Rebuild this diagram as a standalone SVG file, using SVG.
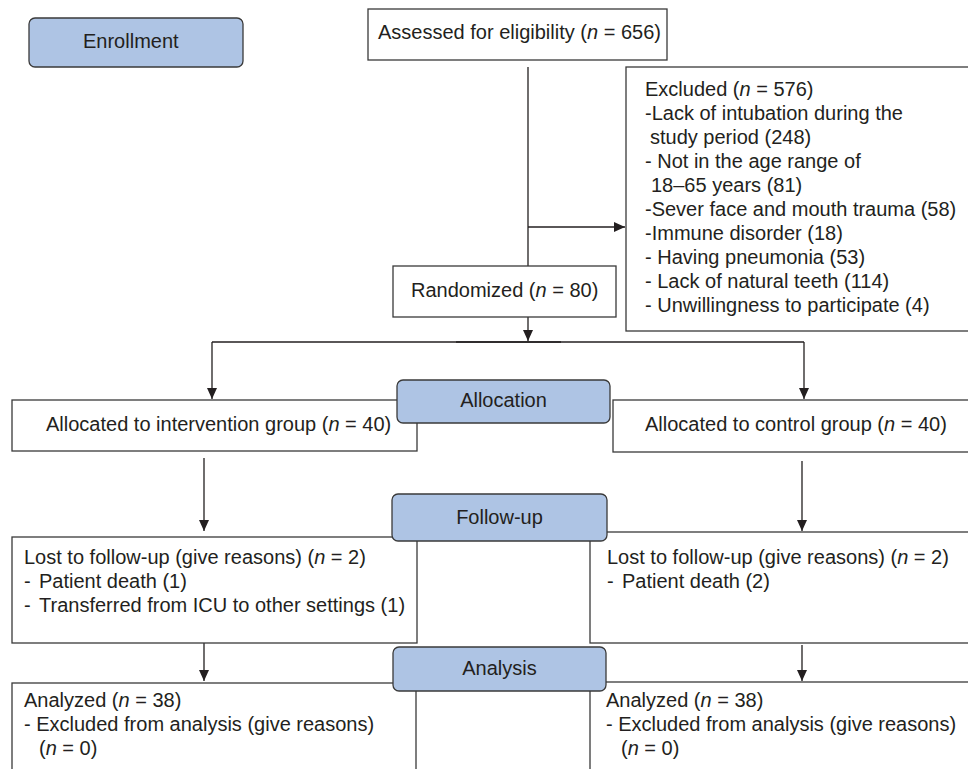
<svg xmlns="http://www.w3.org/2000/svg" width="968" height="769" viewBox="0 0 968 769">
<defs>
<style>
.box{fill:#ffffff;stroke:#3a3a3a;stroke-width:1.3}
.stage{fill:#aec4e4;stroke:#3a3a3a;stroke-width:1.3}
.t{font-family:"Liberation Sans",Arial,sans-serif;font-size:20px;fill:#231f20}
.c{stroke:#231f20;stroke-width:1.3;fill:none}
.i{font-style:italic}
</style>
<marker id="ah" markerUnits="userSpaceOnUse" markerWidth="12" markerHeight="10" refX="11" refY="5" orient="auto">
<path d="M0,0 L11,5 L0,10 Z" fill="#231f20"/>
</marker>
</defs>
<rect width="968" height="769" fill="#ffffff"/>

<g id="connectors">
<path class="c" d="M528,67 V266"/>
<path class="c" d="M528,227 H625" marker-end="url(#ah)"/>
<path class="c" d="M528,317 V341" marker-end="url(#ah)"/>
<path class="c" d="M212,342 H804"/>
<path class="c" d="M456,342 H561" stroke-width="2"/>
<path class="c" d="M212,342 V399" marker-end="url(#ah)"/>
<path class="c" d="M804,342 V399" marker-end="url(#ah)"/>
<path class="c" d="M204,458 V531" marker-end="url(#ah)"/>
<path class="c" d="M802,461 V531" marker-end="url(#ah)"/>
<path class="c" d="M204,637 V681" marker-end="url(#ah)"/>
<path class="c" d="M802,645 V681" marker-end="url(#ah)"/>
</g>

<g id="assessed">
<rect class="box" x="368" y="9" width="299" height="51"/>
<text class="t" x="378" y="39">Assessed for eligibility (<tspan class="i">n</tspan> = 656)</text>
</g>

<g id="excluded">
<rect class="box" x="626" y="67" width="350" height="264"/>
<text class="t" x="645" y="96">Excluded (<tspan class="i">n</tspan> = 576)</text>
<text class="t" x="645" y="120">-Lack of intubation during the</text>
<text class="t" x="650" y="144">study period (248)</text>
<text class="t" x="645" y="168">- Not in the age range of</text>
<text class="t" x="651" y="192">18–65 years (81)</text>
<text class="t" x="645" y="216">-Sever face and mouth trauma (58)</text>
<text class="t" x="645" y="240">-Immune disorder (18)</text>
<text class="t" x="645" y="264">- Having pneumonia (53)</text>
<text class="t" x="645" y="288">- Lack of natural teeth (114)</text>
<text class="t" x="645" y="312">- Unwillingness to participate (4)</text>
</g>

<g id="randomized">
<rect class="box" x="393" y="266" width="223" height="51"/>
<text class="t" x="411" y="297">Randomized (<tspan class="i">n</tspan> = 80)</text>
</g>

<g id="alloc-intervention">
<rect class="box" x="12" y="400" width="405" height="51"/>
<text class="t" x="46" y="431">Allocated to intervention group (<tspan class="i">n</tspan> = 40)</text>
</g>

<g id="alloc-control">
<rect class="box" x="613" y="400" width="370" height="52"/>
<text class="t" x="645" y="431">Allocated to control group (<tspan class="i">n</tspan> = 40)</text>
</g>

<g id="lost-intervention">
<rect class="box" x="12" y="537" width="405" height="106"/>
<text class="t" x="24" y="564">Lost to follow-up (give reasons) (<tspan class="i">n</tspan> = 2)</text>
<text class="t" x="24" y="588">-</text>
<text class="t" x="39" y="588">Patient death (1)</text>
<text class="t" x="24" y="612">-</text>
<text class="t" x="39" y="612">Transferred from ICU to other settings (1)</text>
</g>

<g id="lost-control">
<rect class="box" x="590" y="532" width="390" height="111"/>
<text class="t" x="607" y="564">Lost to follow-up (give reasons) (<tspan class="i">n</tspan> = 2)</text>
<text class="t" x="607" y="588">-</text>
<text class="t" x="622" y="588">Patient death (2)</text>
</g>

<g id="analyzed-intervention">
<rect class="box" x="12" y="683" width="404" height="100"/>
<text class="t" x="24" y="707">Analyzed (<tspan class="i">n</tspan> = 38)</text>
<text class="t" x="24" y="731">- Excluded from analysis (give reasons)</text>
<text class="t" x="39" y="755">(<tspan class="i">n</tspan> = 0)</text>
</g>

<g id="analyzed-control">
<rect class="box" x="590" y="682" width="390" height="100"/>
<text class="t" x="606" y="707">Analyzed (<tspan class="i">n</tspan> = 38)</text>
<text class="t" x="606" y="731">- Excluded from analysis (give reasons)</text>
<text class="t" x="621" y="755">(<tspan class="i">n</tspan> = 0)</text>
</g>

<g id="enrollment">
<rect class="stage" x="29" y="18" width="214" height="49" rx="6"/>
<text class="t" x="83" y="48">Enrollment</text>
</g>

<g id="allocation">
<rect class="stage" x="397" y="380" width="213" height="43" rx="6"/>
<text class="t" x="503.5" y="407" text-anchor="middle">Allocation</text>
</g>

<g id="follow-up">
<rect class="stage" x="392" y="494" width="215" height="47" rx="6"/>
<text class="t" x="499.5" y="524" text-anchor="middle">Follow-up</text>
</g>

<g id="analysis">
<rect class="stage" x="393" y="647" width="213" height="44" rx="6"/>
<text class="t" x="499.5" y="675" text-anchor="middle">Analysis</text>
</g>
</svg>
